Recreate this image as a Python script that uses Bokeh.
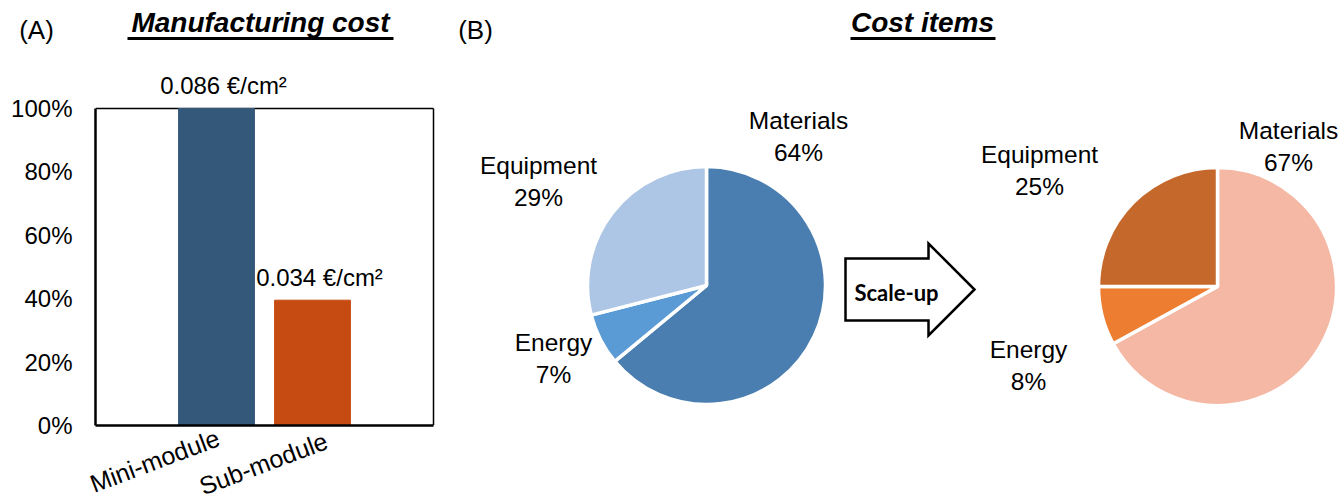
import numpy as np
from bokeh.plotting import figure
from bokeh.models import (Range1d, FixedTicker, NumeralTickFormatter, ColumnDataSource,
                          LinearAxis)
from bokeh.core.properties import value
from bokeh.embed import file_html
from bokeh.resources import INLINE

# ---------------- data ----------------
modules = ["Mini-module", "Sub-module"]
module_cost = [0.086, 0.034]          # €/cm²
cost_unit = "€/cm²"
y_ticks = [0, 0.2, 0.4, 0.6, 0.8, 1.0]

cost_items = ["Materials", "Energy", "Equipment"]
share_before = [64, 7, 29]
share_after = [67, 8, 25]

# ---------------- styles ----------------
bar_colors = ["#34587A", "#C64B13"]
colors_before = ["#4A7EB0", "#5B9BD5", "#ADC6E5"]
colors_after = ["#F4B8A4", "#ED7D31", "#C5682B"]
FONT = value("Liberation Sans")
ARROW_FONT = value("Lato")

# geometry, in reference-pixel coordinates (canvas origin = reference origin)
W, H = 1340, 500
frame_l, frame_b = 95, 425  # plot frame (left / bottom edge)
box_r, box_t = 433, 108     # right / top edge of the bar chart box
px_per_cat = 96
first_center = 216

def by(py):                 # reference y -> main data y (upwards)
    return 502 - py

xs = [1, 2]
x0 = xs[0] - (first_center - frame_l) / px_per_cat
x_end = x0 + (W - frame_l) / px_per_cat
x_box = x0 + (box_r - frame_l) / px_per_cat
pct_top = frame_b / (frame_b - box_t)

p = figure(width=W, height=H, output_backend="svg", toolbar_location=None,
           x_range=Range1d(frame_l, W), y_range=Range1d(by(frame_b), by(0)),
           x_axis_location=None, y_axis_location=None,
           min_border_left=frame_l, min_border_right=0,
           min_border_top=0, min_border_bottom=H - frame_b)
p.extra_x_ranges = {"bx": Range1d(x0, x_end)}
p.extra_y_ranges = {"py": Range1d(0, pct_top)}
p.outline_line_color = None
p.grid.visible = False
p.background_fill_color = "white"
p.border_fill_color = "white"

# ---------------- (A) bar chart ----------------
rel = [c / module_cost[0] for c in module_cost]
src = ColumnDataSource(dict(x=xs, top=rel, color=bar_colors,
                            lab=[f"{c:.3f} {cost_unit}" for c in module_cost]))

# box edges (top, right, bottom)
p.segment(x0=[x0], y0=[1.0], x1=[x_box], y1=[1.0], line_color="black", line_width=1.5,
          x_range_name="bx", y_range_name="py")
p.segment(x0=[x_box], y0=[0], x1=[x_box], y1=[1.0], line_color="black", line_width=1.5,
          x_range_name="bx", y_range_name="py")

p.vbar(x="x", top="top", width=0.79, color="color", source=src,
       x_range_name="bx", y_range_name="py")
p.segment(x0=[x0], y0=[0], x1=[x_box], y1=[0], line_color="black", line_width=2.5,
          x_range_name="bx", y_range_name="py", level="overlay")
p.text(x="x", y="top", text="lab", source=src, text_font=FONT, text_font_size="24px",
       text_align="center", text_baseline="middle", y_offset=-23, x_offset=7,
       text_color="black", x_range_name="bx", y_range_name="py")

# category labels below the box (rotated)
cat_src = ColumnDataSource(dict(x=xs, y=[0, 0], t=modules, dx=[-3, 9], dy=[-2, 1]))
p.text(x="x", y="y", text="t", source=cat_src, x_offset="dx", y_offset="dy", angle=0.36,
       text_font=FONT, text_font_size="25px", text_align="right", text_baseline="top",
       text_color="black", x_range_name="bx", y_range_name="py", level="overlay")

yax = LinearAxis(y_range_name="py")
yax.ticker = FixedTicker(ticks=y_ticks)
yax.formatter = NumeralTickFormatter(format="0%")
yax.bounds = (0, 1)
yax.axis_line_width = 2.5
yax.major_tick_out = 0
yax.major_tick_in = 0
yax.minor_tick_out = 0
yax.minor_tick_in = 0
yax.major_tick_line_color = None
yax.minor_tick_line_color = None
yax.major_label_standoff = 23
yax.major_label_text_font = "Liberation Sans"
yax.major_label_text_font_size = "24px"
yax.major_label_text_color = "black"
p.add_layout(yax, "left")

# panel titles
titles = ["Manufacturing cost", "Cost items"]
title_x = [260, 922]
underline_x0 = [127, 850]
underline_x1 = [393, 995]
p.text(x=title_x, y=[by(22)] * 2, text=titles, text_font=FONT, text_font_size="28px",
       text_font_style="bold italic", text_align="center", text_baseline="middle",
       text_color="black")
p.segment(x0=underline_x0, y0=[by(38)] * 2, x1=underline_x1, y1=[by(38)] * 2,
          line_color="black", line_width=3)
p.text(x=[36, 475], y=[by(29)] * 2, text=["(A)", "(B)"], text_font=FONT, text_font_size="26px",
       text_align="center", text_baseline="middle", text_color="black", level="overlay")

# ---------------- (B) pies ----------------
def pie(cx, cy, r, shares, colors, label_pos):
    fr = np.array(shares, dtype=float) / sum(shares)
    cum = np.concatenate([[0], np.cumsum(fr)])
    start = np.pi / 2 - 2 * np.pi * cum[:-1]
    end = np.pi / 2 - 2 * np.pi * cum[1:]
    s = ColumnDataSource(dict(start=start, end=end, color=colors))
    p.wedge(x=cx, y=by(cy), radius=r, start_angle="start", end_angle="end",
            direction="clock", fill_color="color", line_color="white", line_width=3.5, source=s)
    t = ColumnDataSource(dict(x=[q[0] for q in label_pos], y=[by(q[1]) for q in label_pos],
                              t=[f"{n}\n{v}%" for n, v in zip(cost_items, shares)]))
    p.text(x="x", y="y", text="t", source=t, text_font=FONT, text_font_size="24.5px",
           text_align="center", text_baseline="middle", text_line_height=1.15, text_color="black")

pie(706, 285, 119, share_before, colors_before, [(798, 136), (553, 358), (538, 181)])
pie(1217, 286, 119, share_after, colors_after, [(1288, 146), (1028, 365), (1039, 170)])

# scale-up arrow
arrow_x = [845, 928, 928, 974, 928, 928, 845]
arrow_y = [258, 258, 243, 289, 335, 320, 320]
p.patch(x=arrow_x, y=[by(v) for v in arrow_y], fill_color="white", line_color="black",
        line_width=2.5, line_join="miter")
p.text(x=[896], y=[by(292)], text=["Scale-up"], text_font=ARROW_FONT, text_font_size="22px",
       text_font_style="bold", text_align="center", text_baseline="middle", text_color="black")

open("out.html", "w").write(file_html(p, INLINE))
